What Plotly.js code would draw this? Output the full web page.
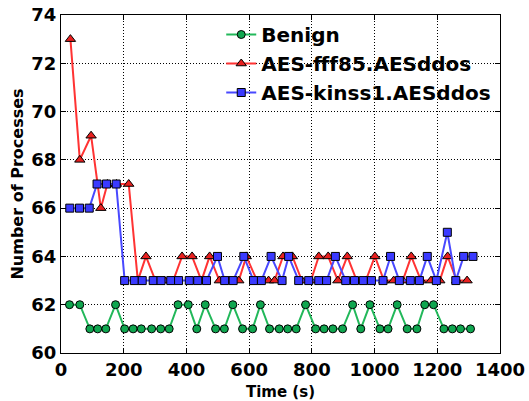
<!DOCTYPE html>
<html>
<head>
<meta charset="utf-8">
<script src="https://cdn.plot.ly/plotly-3.0.1.min.js"></script>
<style>html,body{margin:0;padding:0;background:#fff;}#chart{width:529px;height:401px;}</style>
</head>
<body>
<div id="chart"></div>
<script>
// Benign
const benignTime = [27, 60, 92, 117, 143, 174, 203, 230, 256, 289, 318, 345, 373, 406, 433, 460, 493, 521, 548, 579, 611, 636, 665, 696, 723, 750, 780, 812, 839, 867, 898, 930, 956, 985, 1017, 1043, 1072, 1104, 1135, 1160, 1188, 1221, 1248, 1274, 1306];
const benignProc = [62, 62, 61, 61, 61, 62, 61, 61, 61, 61, 61, 61, 62, 62, 61, 62, 61, 61, 62, 61, 61, 62, 61, 61, 61, 61, 62, 61, 61, 61, 61, 62, 61, 62, 61, 61, 62, 61, 61, 62, 62, 61, 61, 61, 61];
// AES-fff85.AESddos
const fffTime = [30, 60, 96, 127, 148, 177, 216, 245, 271, 301, 330, 358, 386, 418, 448, 474, 505, 536, 567, 591, 625, 662, 681, 708, 738, 768, 797, 822, 852, 883, 913, 943, 972, 1001, 1030, 1061, 1090, 1117, 1148, 1180, 1208, 1233, 1262, 1295];
const fffProc = [73, 68, 69, 66, 67, 67, 67, 63, 64, 63, 63, 63, 64, 64, 63, 64, 63, 63, 63, 64, 63, 63, 63, 64, 64, 63, 63, 64, 64, 63, 64, 63, 63, 64, 63, 63, 63, 64, 63, 63, 63, 64, 63, 63];
// AES-kinss1.AESddos
const kinTime = [28, 59, 90, 115, 145, 176, 203, 234, 259, 294, 319, 350, 375, 409, 436, 464, 499, 522, 549, 583, 614, 639, 670, 705, 726, 758, 790, 822, 847, 875, 908, 936, 964, 990, 1027, 1051, 1079, 1114, 1143, 1168, 1197, 1232, 1259, 1284, 1314];
const kinProc = [66, 66, 66, 67, 67, 67, 63, 63, 63, 63, 63, 63, 63, 63, 63, 63, 64, 63, 63, 64, 63, 63, 64, 63, 64, 63, 63, 63, 63, 64, 63, 63, 63, 63, 63, 64, 63, 63, 63, 64, 63, 65, 63, 64, 64];

const seriesNames = ['Benign', 'AES-fff85.AESddos', 'AES-kinss1.AESddos'];
const xTicks = [0, 200, 400, 600, 800, 1000, 1200, 1400];
const yTicks = [60, 62, 64, 66, 68, 70, 72, 74];

const FONT = 'DejaVu Sans, Verdana, sans-serif';

const traces = [
  {x: benignTime, y: benignProc, name: seriesNames[0], mode: 'lines+markers',
   line: {color: '#22b85a', width: 2},
   marker: {symbol: 'circle', size: 8, color: '#0fa64f', line: {color: '#000', width: 1}}},
  {x: fffTime, y: fffProc, name: seriesNames[1], mode: 'lines+markers',
   line: {color: '#ff3333', width: 2},
   marker: {symbol: 'triangle-up', size: 9, color: '#e8201f', line: {color: '#000', width: 1}}},
  {x: kinTime, y: kinProc, name: seriesNames[2], mode: 'lines+markers',
   line: {color: '#4848ff', width: 2},
   marker: {symbol: 'square', size: 8, color: '#3a3aff', line: {color: '#000', width: 1}}}
];

const axisCommon = {
  showline: true, linecolor: '#000', linewidth: 1, mirror: 'allticks',
  ticks: 'inside', ticklen: 5, tickcolor: '#000', tickwidth: 1,
  showgrid: true, gridcolor: '#000', griddash: '1px,2px', gridwidth: 1,
  zeroline: false,
  tickfont: {family: FONT, size: 18, color: '#000', weight: 'bold'}
};

const layout = {
  width: 529, height: 401,
  margin: {l: 61, r: 29, t: 15, b: 48},
  paper_bgcolor: '#fff', plot_bgcolor: '#fff',
  showlegend: true,
  legend: {x: 0.365, y: 1.0, xanchor: 'left', yanchor: 'top', bgcolor: 'rgba(0,0,0,0)', borderwidth: 0,
           itemwidth: 30,
           font: {family: FONT, size: 20, color: '#000', weight: 'bold'}, tracegroupgap: 0},
  xaxis: Object.assign({}, axisCommon, {
    range: [0, 1400], tickvals: xTicks, ticktext: xTicks.map(String),
    title: {text: 'Time (s)', font: {family: FONT, size: 15, color: '#000', weight: 'bold'}, standoff: 7}
  }),
  yaxis: Object.assign({}, axisCommon, {
    range: [60, 74], tickvals: yTicks, ticktext: yTicks.map(String),
    title: {text: 'Number of Processes', font: {family: FONT, size: 16, color: '#000', weight: 'bold'}, standoff: 3}
  })
};

Plotly.newPlot('chart', traces, layout, {displayModeBar: false, staticPlot: true});
</script>
</body>
</html>
